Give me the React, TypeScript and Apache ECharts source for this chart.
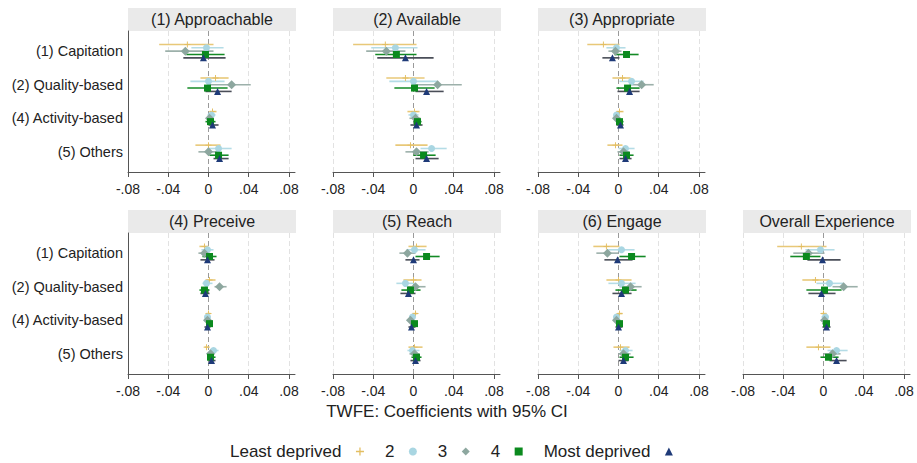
import React, { useEffect, useRef } from "react";
import * as echarts from "echarts";

const panelTitles = [
  "(1) Approachable",
  "(2) Available",
  "(3) Appropriate",
  "(4) Preceive",
  "(5) Reach",
  "(6) Engage",
  "Overall Experience",
];
const categories = ["(1) Capitation", "(2) Quality-based", "(4) Activity-based", "(5) Others"];
const groups = ["Least deprived", "2", "3", "4", "Most deprived"];
const xTicks = [-0.08, -0.04, 0, 0.04, 0.08];
const xTickLabels = ["-.08", "-.04", "0", ".04", ".08"];
const axisTitle = "TWFE: Coefficients with 95% CI";

// rows: categories; columns: groups (Least deprived, 2, 3, 4, Most deprived)
const approachableEst = [
  [-0.021, -0.002, -0.023, -0.003, -0.005],
  [0.007, 0.0, 0.023, -0.001, 0.009],
  [0.004, 0.003, 0.001, 0.002, 0.004],
  [0.0, 0.01, 0.0, 0.01, 0.011],
];
const approachableLo = [
  [-0.049, -0.017, -0.043, -0.022, -0.025],
  [-0.008, -0.018, 0.0, -0.021, -0.003],
  [0.001, -0.001, -0.002, -0.003, 0.0],
  [-0.013, -0.001, -0.01, 0.001, 0.005],
];
const approachableHi = [
  [0.005, 0.015, 0.005, 0.016, 0.017],
  [0.02, 0.016, 0.042, 0.019, 0.023],
  [0.008, 0.007, 0.005, 0.007, 0.01],
  [0.012, 0.023, 0.01, 0.02, 0.02],
];

const availableEst = [
  [-0.028, -0.018, -0.027, -0.017, -0.008],
  [-0.008, 0.0, 0.024, 0.001, 0.013],
  [0.001, 0.0, 0.002, 0.004, 0.003],
  [-0.003, 0.018, 0.003, 0.01, 0.013],
];
const availableLo = [
  [-0.06, -0.042, -0.047, -0.038, -0.036],
  [-0.027, -0.024, 0.0, -0.019, 0.002],
  [-0.006, -0.005, -0.004, 0.0, -0.003],
  [-0.018, 0.007, -0.008, 0.0, 0.002],
];
const availableHi = [
  [0.003, 0.004, -0.008, 0.003, 0.02],
  [0.011, 0.024, 0.048, 0.021, 0.03],
  [0.006, 0.005, 0.007, 0.008, 0.009],
  [0.014, 0.033, 0.015, 0.022, 0.025],
];

const appropriateEst = [
  [-0.015, -0.002, -0.003, 0.008, -0.006],
  [0.004, 0.013, 0.023, 0.009, 0.011],
  [0.001, -0.002, -0.002, 0.001, 0.002],
  [-0.003, 0.007, 0.005, 0.008, 0.007],
];
const appropriateLo = [
  [-0.031, -0.012, -0.01, -0.004, -0.016],
  [-0.006, 0.001, 0.011, -0.002, -0.001],
  [-0.002, -0.005, -0.005, -0.002, -0.002],
  [-0.011, 0.0, -0.001, 0.001, 0.001],
];
const appropriateHi = [
  [0.001, 0.007, 0.003, 0.02, 0.001],
  [0.012, 0.025, 0.035, 0.021, 0.021],
  [0.005, 0.001, 0.002, 0.005, 0.005],
  [0.004, 0.016, 0.011, 0.015, 0.013],
];

const preceiveEst = [
  [-0.004, -0.001, -0.004, 0.001, -0.001],
  [0.001, -0.002, 0.011, -0.004, -0.003],
  [0.0, -0.001, -0.001, 0.001, -0.001],
  [-0.002, 0.005, 0.002, 0.002, 0.003],
];
const preceiveLo = [
  [-0.009, -0.007, -0.01, -0.006, -0.008],
  [-0.003, -0.006, 0.006, -0.009, -0.008],
  [-0.002, -0.003, -0.003, -0.002, -0.004],
  [-0.004, 0.001, -0.001, -0.001, 0.0],
];
const preceiveHi = [
  [0.0, 0.005, 0.001, 0.008, 0.006],
  [0.007, 0.004, 0.018, 0.001, 0.001],
  [0.002, 0.002, 0.001, 0.003, 0.002],
  [0.001, 0.01, 0.006, 0.007, 0.007],
];

const reachEst = [
  [0.003, 0.001, -0.006, 0.013, 0.0],
  [0.0, -0.008, 0.002, -0.003, -0.005],
  [0.002, -0.001, -0.003, 0.001, -0.002],
  [0.001, -0.001, 0.001, 0.003, 0.002],
];
const reachLo = [
  [-0.005, -0.007, -0.014, 0.002, -0.008],
  [-0.01, -0.017, -0.006, -0.012, -0.013],
  [-0.001, -0.004, -0.005, -0.003, -0.005],
  [-0.005, -0.006, -0.004, -0.002, -0.003],
];
const reachHi = [
  [0.013, 0.012, 0.002, 0.026, 0.006],
  [0.008, 0.001, 0.012, 0.007, 0.002],
  [0.004, 0.002, 0.0, 0.003, 0.002],
  [0.009, 0.006, 0.006, 0.008, 0.007],
];

const engageEst = [
  [-0.012, 0.003, -0.011, 0.013, -0.001],
  [0.0, 0.003, 0.012, 0.007, 0.003],
  [0.001, -0.002, -0.002, 0.001, 0.0],
  [0.002, 0.007, 0.005, 0.007, 0.005],
];
const engageLo = [
  [-0.025, -0.01, -0.022, 0.001, -0.014],
  [-0.012, -0.01, 0.001, -0.003, -0.006],
  [-0.001, -0.005, -0.004, -0.002, -0.003],
  [-0.005, 0.001, 0.0, 0.001, 0.0],
];
const engageHi = [
  [0.001, 0.016, 0.0, 0.027, 0.014],
  [0.013, 0.017, 0.023, 0.018, 0.013],
  [0.004, 0.0, 0.0, 0.004, 0.004],
  [0.011, 0.014, 0.012, 0.015, 0.01],
];

const overallEst = [
  [-0.022, -0.003, -0.015, -0.017, -0.001],
  [-0.008, 0.006, 0.02, 0.001, -0.002],
  [0.0, 0.002, 0.001, 0.003, 0.003],
  [-0.005, 0.013, 0.009, 0.005, 0.013],
];
const overallLo = [
  [-0.046, -0.018, -0.03, -0.033, -0.016],
  [-0.021, -0.007, 0.009, -0.017, -0.015],
  [-0.002, -0.002, -0.001, -0.001, -0.001],
  [-0.017, 0.004, 0.0, -0.003, 0.006],
];
const overallHi = [
  [0.003, 0.011, 0.001, -0.003, 0.017],
  [0.006, 0.02, 0.034, 0.018, 0.012],
  [0.003, 0.005, 0.004, 0.006, 0.007],
  [0.007, 0.024, 0.017, 0.015, 0.023],
];

const panelData = [
  { est: approachableEst, lo: approachableLo, hi: approachableHi },
  { est: availableEst, lo: availableLo, hi: availableHi },
  { est: appropriateEst, lo: appropriateLo, hi: appropriateHi },
  { est: preceiveEst, lo: preceiveLo, hi: preceiveHi },
  { est: reachEst, lo: reachLo, hi: reachHi },
  { est: engageEst, lo: engageLo, hi: engageHi },
  { est: overallEst, lo: overallLo, hi: overallHi },
];

const FONT = "'Liberation Sans', Arial, Helvetica, sans-serif";
const pointColors = ["#E3BE62", "#A9D6E2", "#8DA79F", "#0B8A1E", "#1E3A78"];
const ciColors = ["#E8C878", "#B4DCE6", "#9CB0AA", "#138A25", "#4A4E58"];
const plusPath = "path://M4.2,0h1.6v4.2h4.2v1.6h-4.2v4.2h-1.6v-4.2h-4.2v-1.6h4.2z";
const symbols = [plusPath, "circle", "diamond", "rect", "triangle"];
const symbolSizes = [6, 7, 9, 7, 7];

const gridLefts = [128, 333, 538, 128, 333, 538, 743];
const gridTops = [31, 31, 31, 233, 233, 233, 233];
const GRID_W = 167;
const GRID_H = 141;
const BAND_H = 23;

export default function App() {
  const ref = useRef<HTMLDivElement>(null);

  useEffect(() => {
    if (!ref.current) return;
    const chart = echarts.init(ref.current, undefined, { renderer: "svg" });

    const grids: any[] = [];
    const xAxes: any[] = [];
    const yAxes: any[] = [];
    const series: any[] = [];
    const graphics: any[] = [];

    panelTitles.forEach((title, p) => {
      const hasY = p === 0 || p === 3;
      grids.push({ left: gridLefts[p], top: gridTops[p], width: GRID_W, height: GRID_H });
      xAxes.push({
        type: "value",
        gridIndex: p,
        min: -0.08,
        max: 0.086,
        axisLine: { show: true, onZero: false, lineStyle: { color: "#555", width: 1 } },
        axisTick: { show: true, customValues: xTicks, length: 5, lineStyle: { color: "#555" } },
        axisLabel: {
          customValues: xTicks,
          margin: 10,
          fontSize: 14,
          color: "#222",
          fontFamily: FONT,
          formatter: (v: number) => {
            const i = xTicks.findIndex((t) => Math.abs(t - v) < 1e-6);
            return i >= 0 ? xTickLabels[i] : "";
          },
        },
        splitLine: { show: false },
      });
      yAxes.push({
        type: "value",
        gridIndex: p,
        inverse: true,
        min: 0.4,
        max: 4.6,
        axisLine: { show: hasY, onZero: false, lineStyle: { color: "#555", width: 1 } },
        axisTick: { show: false },
        splitLine: { show: false },
        axisLabel: {
          show: hasY,
          customValues: [1, 2, 3, 4],
          margin: 5,
          fontSize: 14.5,
          color: "#222",
          fontFamily: FONT,
          formatter: (v: number) => categories[Math.round(v) - 1] ?? "",
        },
      });

      const d = panelData[p];
      const gridLineData = xTicks
        .filter((t) => !(hasY && t === -0.08))
        .map((t) => ({
          xAxis: t,
          lineStyle:
            t === 0
              ? { color: "#9a9a9a", type: [5, 3], width: 1 }
              : { color: "#e2e2e2", type: [5, 3], width: 1 },
        }));

      groups.forEach((g, s) => {
        const yPos = (c: number) => c + 1 + (s - 2) * 0.1;
        series.push({
          type: "scatter",
          name: g,
          xAxisIndex: p,
          yAxisIndex: p,
          symbol: symbols[s],
          symbolSize: symbolSizes[s],
          itemStyle: { color: pointColors[s], opacity: 1 },
          z: 4 + s * 0.01,
          data: categories.map((_, c) => [d.est[c][s], yPos(c)]),
          markLine:
            s === 0
              ? {
                  silent: true,
                  symbol: "none",
                  z: 1,
                  label: { show: false },
                  emphasis: { disabled: true },
                  data: gridLineData,
                }
              : undefined,
        });
        series.push({
          type: "custom",
          name: g + " CI",
          xAxisIndex: p,
          yAxisIndex: p,
          z: 3,
          silent: true,
          encode: { x: [0, 1], y: 2 },
          data: categories.map((_, c) => [d.lo[c][s], d.hi[c][s], yPos(c)]),
          renderItem: (_params: any, api: any) => {
            const a = api.coord([api.value(0), api.value(2)]);
            const b = api.coord([api.value(1), api.value(2)]);
            return {
              type: "line",
              shape: { x1: a[0], y1: a[1], x2: b[0], y2: b[1] },
              style: { stroke: ciColors[s], lineWidth: 1.6 },
            };
          },
        });
      });

      graphics.push({
        type: "rect",
        shape: { x: gridLefts[p], y: gridTops[p] - BAND_H, width: GRID_W + 1, height: BAND_H },
        style: { fill: "#eaeaea" },
        silent: true,
      });
      graphics.push({
        type: "text",
        x: gridLefts[p] + (GRID_W + 1) / 2,
        y: gridTops[p] - BAND_H / 2,
        style: {
          text: title,
          fontSize: 16,
          fontFamily: FONT,
          fill: "#222",
          align: "center",
          verticalAlign: "middle",
        },
        silent: true,
      });
    });

    graphics.push({
      type: "text",
      x: 447,
      y: 411,
      style: {
        text: axisTitle,
        fontSize: 17,
        fontFamily: FONT,
        fill: "#222",
        align: "center",
        verticalAlign: "middle",
      },
      silent: true,
    });

    chart.setOption({
      animation: false,
      backgroundColor: "#fff",
      grid: grids,
      xAxis: xAxes,
      yAxis: yAxes,
      series,
      graphic: graphics,
      legend: {
        top: 438,
        left: 225,
        align: "right",
        itemWidth: 8,
        itemHeight: 8,
        itemGap: 21,
        selectedMode: false,
        formatter: (name: string) => name + "\u00a0\u00a0",
        textStyle: { fontSize: 17, color: "#222", fontFamily: FONT },
        data: groups.map((g, i) => ({ name: g, icon: symbols[i] })),
      },
    });

    return () => chart.dispose();
  }, []);

  return (
    <div
      ref={ref}
      style={{ position: "fixed", left: 0, top: 0, width: 917, height: 463, background: "#fff" }}
    />
  );
}
